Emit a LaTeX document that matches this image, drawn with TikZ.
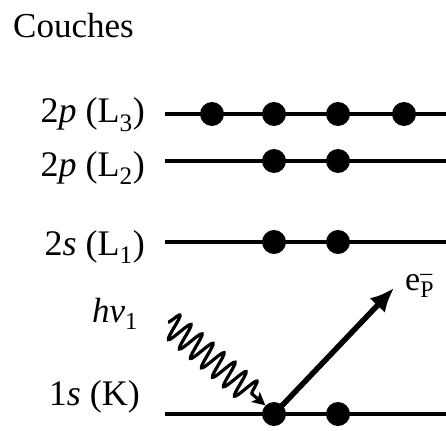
\documentclass[tikz,border=0pt]{standalone}
\usepackage{fontspec}
\setmainfont{Liberation Serif}
\usetikzlibrary{arrows.meta}
\usetikzlibrary{decorations.pathmorphing}

\begin{document}
\begin{tikzpicture}[x=1pt, y=-1pt,
    level/.style={line width=3.2pt},
    electron/.style={circle, fill=black, inner sep=0pt, minimum size=24pt},
    levtext/.style={anchor=base east, inner sep=0pt, font=\fontsize{36}{43}\selectfont},
    photon/.style={line width=3.2pt, decorate,
      decoration={snake, segment length=14.5pt, amplitude=13pt, post length=16pt},
      -{Stealth[length=13pt, width=13pt, inset=3pt]}},
    ejected/.style={line width=5.5pt, -{Latex[length=24pt, width=21pt]}}]
    \def\xstart{165}; % level line start x coordinate
    \def\xend{446}; % level line end x coordinate
    \def\xtext{145}; % label right edge x coordinate

    \useasboundingbox (0,0) rectangle (446,430);

    % levels %%%%%%%%%%%%%%%%%%%%%%%%%%%%%%%%%%%%%%%%%%%%%%%%%%%%%%%%%%%%%%%%%%%%%%%%%%%%%%%%%%%%%
    \foreach \name/\y in {L3/114, L2/161, L1/242, K/414}{
      \coordinate (\name a) at (\xstart,\y);
      \coordinate (\name b) at (\xend,\y);
      \draw[level] (\name a) -- (\name b);
    }

    % annotations %%%%%%%%%%%%%%%%%%%%%%%%%%%%%%%%%%%%%%%%%%%%%%%%%%%%%%%%%%%%%%%%%%%%%%%%%%%%%%%%
    \node[anchor=base west, inner sep=0pt, font=\fontsize{35}{42}\selectfont] (title) at (13,38) {Couches};
    \node[levtext] (tL3) at (\xtext,123) {2\textit{p} (L\textsubscript{3})};
    \node[levtext] (tL2) at (\xtext,176) {2\textit{p} (L\textsubscript{2})};
    \node[levtext] (tL1) at (\xtext,255) {2\textit{s} (L\textsubscript{1})};
    \node[levtext] (tK) at (\xtext-5,405) {1\textit{s} (K)};
    \node[anchor=base west, inner sep=0pt, font=\fontsize{35}{42}\selectfont] (hnu) at (92,322) {\textit{hν}\textsubscript{1}};
    \node[anchor=base west, inner sep=0pt, font=\fontsize{34}{40}\selectfont] (eP) at (405,290) {e\rlap{\textsuperscript{--}}\textsubscript{P}};

    % electrons %%%%%%%%%%%%%%%%%%%%%%%%%%%%%%%%%%%%%%%%%%%%%%%%%%%%%%%%%%%%%%%%%%%%%%%%%%%%%%%%%%
    \foreach \i/\x in {1/212, 2/274, 3/338, 4/404}{
      \node[electron] (e3\i) at (\x,114) {};
    }
    \foreach \i/\x in {1/274, 2/338}{
      \node[electron] (e2\i) at (\x,161) {};
      \node[electron] (e1\i) at (\x,242) {};
      \node[electron] (ek\i) at (\x,414) {};
    }

    % photon and photoelectron %%%%%%%%%%%%%%%%%%%%%%%%%%%%%%%%%%%%%%%%%%%%%%%%%%%%%%%%%%%%%%%%%%%
    \coordinate (phstart) at (168,322);
    \coordinate (eout) at (394,288);
    \draw[photon] (phstart) -- (ek1.north west);
    \draw[ejected] (ek1.center) -- (eout);
\end{tikzpicture}
\end{document}
